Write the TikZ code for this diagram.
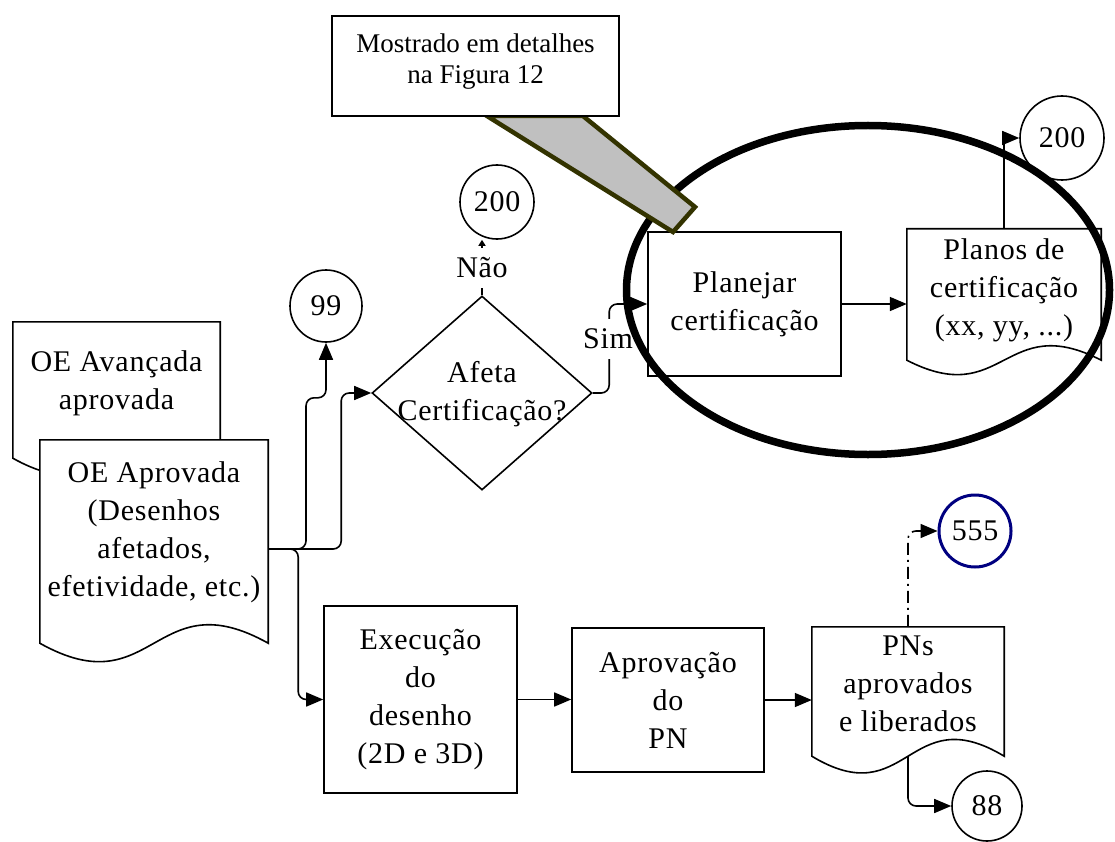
\documentclass[tikz,border=0pt]{standalone}
\usepackage{fontspec}
\setmainfont{Liberation Serif}[LetterSpace=2.5]
\newfontfamily\plainserif{Liberation Serif}
\usetikzlibrary{arrows.meta,calc,shapes.geometric}
\definecolor{olivedark}{HTML}{333300}
\definecolor{calloutgray}{HTML}{C0C0C0}
\definecolor{navyring}{HTML}{000080}

% document symbol: rectangle with a wavy bottom edge
\newcommand\docoutline[2]{%
  \draw[ln, fill=white] (#1.north west) -- (#1.north east) -- (#1.south east)
    .. controls ($(#1.south)+(0,-#2)$) and ($(#1.south)+(0,#2)$) .. (#1.south west) -- cycle;}

\begin{document}
\begin{tikzpicture}[x=1pt,y=-1pt,
  every node/.style={font=\fontsize{30}{38}\selectfont},
  ln/.style={line width=1.6pt},
  box/.style={draw, ln, fill=white, inner sep=0pt, align=center},
  frame/.style={inner sep=0pt},
  txt/.style={align=center, inner sep=0pt},
  conn/.style={draw, ln, circle, fill=white, inner sep=0pt},
  arr/.style={ln, -{Triangle[length=17pt,width=14pt]}, rounded corners=8pt},
  lbl/.style={fill=white, inner sep=3pt, minimum height=40pt},
]
\fill[white] (0,0) rectangle (1115,842);
\useasboundingbox (0,0) rectangle (1115,842);

% input documents
\node[frame, minimum width=207pt, minimum height=136pt] (oeav) at (116.5,390) {};
\docoutline{oeav}{58}
\node[txt] (oeavT) at (116.5,383) {OE Avançada\\aprovada};

\node[frame, minimum width=228pt, minimum height=203pt] (oeap) at (154,541.5) {};
\docoutline{oeap}{64}
\node[txt] (oeapT) at (154,532) {OE Aprovada\\(Desenhos\\afetados,\\efetividade, etc.)};

% decision
\node[draw, ln, diamond, fill=white, minimum width=220pt, minimum height=194pt, inner sep=0pt] (dia) at (482,393) {};
\node[txt] (diaT) at (482,394) {Afeta\\Certificação?};

% off-page connectors
\node[conn, minimum size=72pt] (c99) at (326,306) {99};
\node[conn, minimum size=74pt] (c200a) at (497,202) {200};
\node[conn, minimum size=84pt] (c200b) at (1062,138) {200};
\node[conn, draw=navyring, line width=3pt, minimum size=72pt] (c555) at (975,531) {555};
\node[conn, minimum size=70pt] (c88) at (987,806) {88};

% certification branch
\node[box, minimum width=193pt, minimum height=144pt] (plan) at (744.5,304) {Planejar\\certificação};
\node[frame, minimum width=194pt, minimum height=131pt] (planos) at (1004,294.5) {};
\docoutline{planos}{50}
\node[txt] (planosT) at (1004,290) {Planos de\\certificação\\(xx, yy, ...)};

% drawing branch
\node[box, minimum width=193pt, minimum height=187pt] (exe) at (420.5,699.5) {Execução\\do\\desenho\\(2D e 3D)};
\node[box, minimum width=192pt, minimum height=144pt] (apr) at (668,700) {Aprovação\\do\\PN};
\node[frame, minimum width=192pt, minimum height=129pt] (pns) at (908,691.5) {};
\docoutline{pns}{58}
\node[txt] (pnsT) at (908,684) {PNs\\aprovados\\e liberados};

% connectors
\coordinate (oeapOut) at ($(oeap.east)+(0,7.5)$);
\draw[arr] (oeapOut) -| ($(c99.south)+(-20,55)$) -| (c99.south);
\draw[arr] (oeapOut) -| ($(dia.west)+(-30,0)$) -- (dia.west);
\draw[arr] (oeapOut) -| ($(exe.west)+(-25,0)$) -- (exe.west);

\draw[ln, -{Triangle[length=6pt,width=7pt]}] (dia.north) -- (dia.north |- c200a.south);
\node[lbl] (nao) at (482,268) {Não};

\draw[arr] (dia.east) -| ($(plan.west)+(-38,0)$) -- (plan.west);
\node[lbl] (sim) at (608,339) {Sim};

\draw[arr] (plan.east) -- (plan.east -| planos.west);
\draw[arr, sharp corners] (planos.north) |- (c200b.west);

\draw[arr] (exe.east) -- (exe.east -| apr.west);
\draw[arr] (apr.east) -- (apr.east -| pns.west);
\draw[arr, dash pattern=on 12pt off 5pt on 2pt off 5pt] (pns.north) |- (c555.west);
\draw[arr] (pns.south) |- (c88.west);

% highlight ring around the certification planning
\node[draw, ellipse, line width=7.5pt, minimum width=483pt, minimum height=329pt, inner sep=0pt] (focus) at (868,290) {};

% callout with its pointer
\draw[line width=4.5pt, draw=olivedark, fill=calloutgray, line join=miter]
  (487,116) -- (583,116) -- (695,207) -- (673,232) -- cycle;
\node[draw, ln, fill=white, minimum width=287pt, minimum height=100pt, inner sep=0pt] (callout) at (475.5,66) {};
\node[txt, font=\plainserif\fontsize{27}{31}\selectfont] (calloutT) at (475.5,62) {Mostrado em detalhes\\na Figura 12};
\end{tikzpicture}
\end{document}
